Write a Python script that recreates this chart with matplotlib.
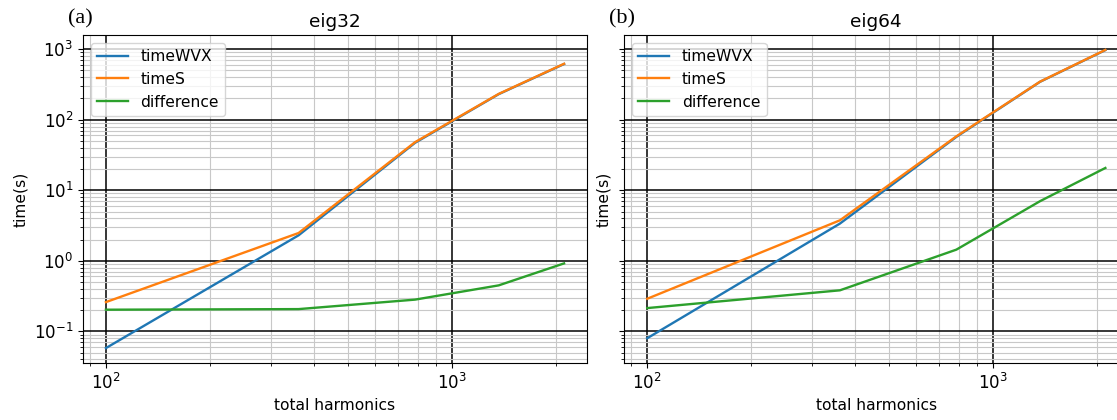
import matplotlib
matplotlib.use("Agg")
import matplotlib.pyplot as plt

harmonics = [100, 361, 784, 1369, 2116]

eig32_timeWVX = [0.058, 2.3, 47, 230, 615]
eig32_timeS = [0.26, 2.48, 48, 232, 620]
eig32_diff = [0.203, 0.207, 0.282, 0.449, 0.92]

eig64_timeWVX = [0.080, 3.37, 57, 344, 968]
eig64_timeS = [0.29, 3.75, 58, 346, 975]
eig64_diff = [0.214, 0.382, 1.44, 7.0, 20.7]

titles = ["eig32", "eig64"]
panel_labels = ["(a)", "(b)"]

plt.rcParams["font.size"] = 11.2
plt.rcParams["xtick.labelsize"] = 12
plt.rcParams["ytick.labelsize"] = 12
plt.rcParams["legend.fontsize"] = 11.2

fig = plt.figure(figsize=(11.17, 4.2), dpi=100)
ax1 = fig.add_axes([0.0743, 0.1357, 0.4512, 0.781])
ax2 = fig.add_axes([0.5589, 0.1357, 0.4512, 0.781], sharey=ax1)

data = [(eig32_timeWVX, eig32_timeS, eig32_diff),
        (eig64_timeWVX, eig64_timeS, eig64_diff)]

for ax, (w, s, d), title, pl in zip([ax1, ax2], data, titles, panel_labels):
    ax.loglog(harmonics, w, label="timeWVX", linewidth=1.7)
    ax.loglog(harmonics, s, label="timeS", linewidth=1.7)
    ax.loglog(harmonics, d, label="difference", linewidth=1.7)
    ax.grid(True, which="major", color="black", linewidth=1.1)
    ax.grid(True, which="minor", color="#c8c8c8", linewidth=0.8)
    ax.set_title(title, fontsize=13.3)
    ax.set_xlabel("total harmonics")
    ax.set_ylabel("time(s)")
    ax.legend(loc="upper left")
    ax.text(-0.03, 1.02, pl, transform=ax.transAxes, family="Liberation Serif",
            fontsize=16, ha="left", va="bottom")

plt.setp(ax2.get_yticklabels(), visible=False)

fig.savefig("out.png", dpi=100)
